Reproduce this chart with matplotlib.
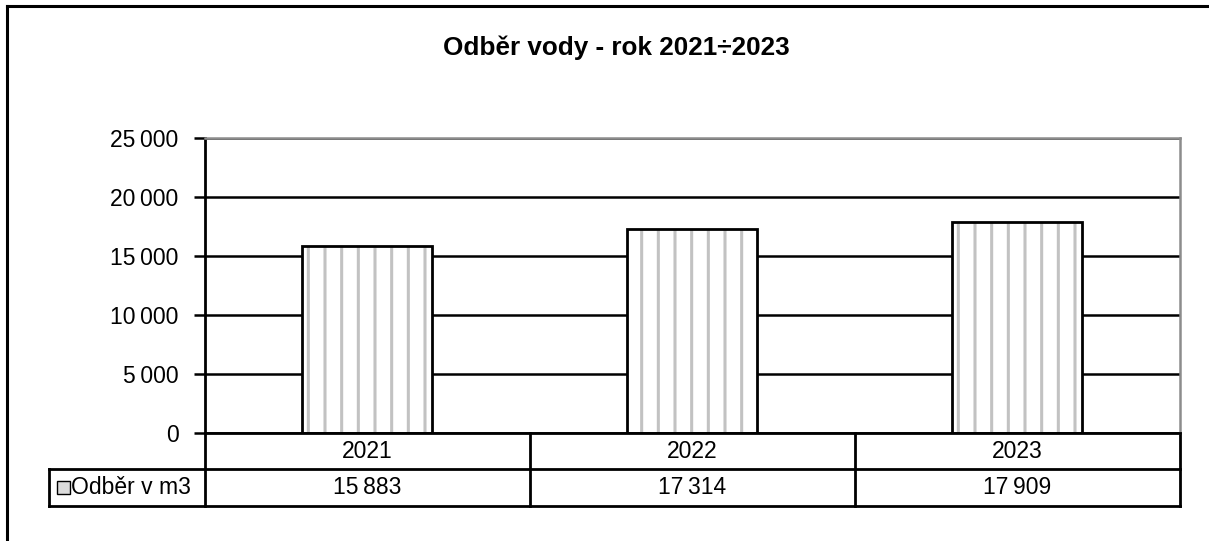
import matplotlib
matplotlib.use("Agg")
import matplotlib.pyplot as plt
import matplotlib.transforms as mtransforms
from matplotlib.lines import Line2D
from matplotlib.patches import Rectangle
from matplotlib.ticker import FuncFormatter

plt.rcParams["font.family"] = ["Liberation Sans", "DejaVu Sans"]
plt.rcParams["hatch.linewidth"] = 2.2

TITLE = "Odběr vody - rok 2021÷2023"
SERIES_NAME = "Odběr v m3"
YEARS = ["2021", "2022", "2023"]
VALUES = [15883, 17314, 17909]
Y_TICKS = [0, 5000, 10000, 15000, 20000, 25000]

W, H, DPI = 1209, 541, 100
FS = 16.5


def fmt_thousands(v, pos=None):
    return f"{int(v):,}".replace(",", "\u2009")


fig = plt.figure(figsize=(W / DPI, H / DPI), dpi=DPI)
fig.patch.set_facecolor("white")

# plot area in pixels: left 205, right 1180, top 138, bottom 433
ax = fig.add_axes([205 / W, (H - 433) / H, (1180 - 205) / W, (433 - 138) / H])

x = list(range(len(YEARS)))
ax.bar(x, VALUES, width=0.4, color="white", edgecolor="#c2c2c2",
       hatch="|", linewidth=0, zorder=2)
ax.bar(x, VALUES, width=0.4, fill=False, edgecolor="black",
       linewidth=2, zorder=3)

ax.set_xlim(-0.5, len(YEARS) - 0.5)
ax.set_ylim(0, 25000)
ax.set_yticks(Y_TICKS)
ax.yaxis.set_major_formatter(FuncFormatter(fmt_thousands))
ax.yaxis.grid(True, color="black", linewidth=1.8)
ax.set_axisbelow(True)
ax.tick_params(axis="y", direction="out", length=8, width=1.8, pad=11,
               labelsize=FS, colors="black")
ax.set_xticks([])

for side in ["top", "right"]:
    ax.spines[side].set_color("#8c8c8c")
    ax.spines[side].set_linewidth(1.8)
for side in ["left", "bottom"]:
    ax.spines[side].set_color("black")
    ax.spines[side].set_linewidth(2)

# data table below the plot
row1 = -(469 - 433) / 295
row2 = -(506 - 433) / 295
leg_left = (49 - 205) / 975
blend = mtransforms.blended_transform_factory(ax.transData, ax.transAxes)
lk = dict(color="black", linewidth=2, clip_on=False, solid_capstyle="projecting")

for xi, year, val in zip(x, YEARS, VALUES):
    ax.text(xi, row1 / 2, year, transform=blend, ha="center", va="center",
            fontsize=FS)
    ax.text(xi, (row1 + row2) / 2, fmt_thousands(val), transform=blend,
            ha="center", va="center", fontsize=FS)

for xi in [i + 0.5 for i in x[:-1]]:
    ax.add_line(Line2D([xi, xi], [0, row2], transform=blend, **lk))
ax.add_line(Line2D([0, 0], [0, row2], transform=ax.transAxes, **lk))
ax.add_line(Line2D([1, 1], [0, row2], transform=ax.transAxes, **lk))
ax.add_line(Line2D([leg_left, 1], [row1, row1], transform=ax.transAxes, **lk))
ax.add_line(Line2D([leg_left, 1], [row2, row2], transform=ax.transAxes, **lk))
ax.add_line(Line2D([leg_left, leg_left], [row1, row2], transform=ax.transAxes, **lk))

# legend key and series name in the table row header
key_x = (57 - 205) / 975
key_w = 13 / 975
key_h = 13 / 295
key_y = (row1 + row2) / 2 - key_h / 2
ax.add_patch(Rectangle((key_x, key_y), key_w, key_h, transform=ax.transAxes,
                       facecolor="#dcdcdc", edgecolor="black", linewidth=1,
                       clip_on=False))
ax.text((71 - 205) / 975, (row1 + row2) / 2, SERIES_NAME, transform=ax.transAxes,
        ha="left", va="center", fontsize=FS)

fig.text(616 / W, 1 - 48 / H, TITLE, ha="center", va="center",
         fontsize=18.8, fontweight="bold")

# outer chart frame (right and bottom edges fall outside the image)
fig.add_artist(Line2D([7 / W, 7 / W], [1 - 6 / H, -0.05], color="black",
                      linewidth=2.2, transform=fig.transFigure))
fig.add_artist(Line2D([7 / W, 1.05], [1 - 6 / H, 1 - 6 / H], color="black",
                      linewidth=2.2, transform=fig.transFigure))

fig.savefig("out.png", dpi=DPI, facecolor="white")
